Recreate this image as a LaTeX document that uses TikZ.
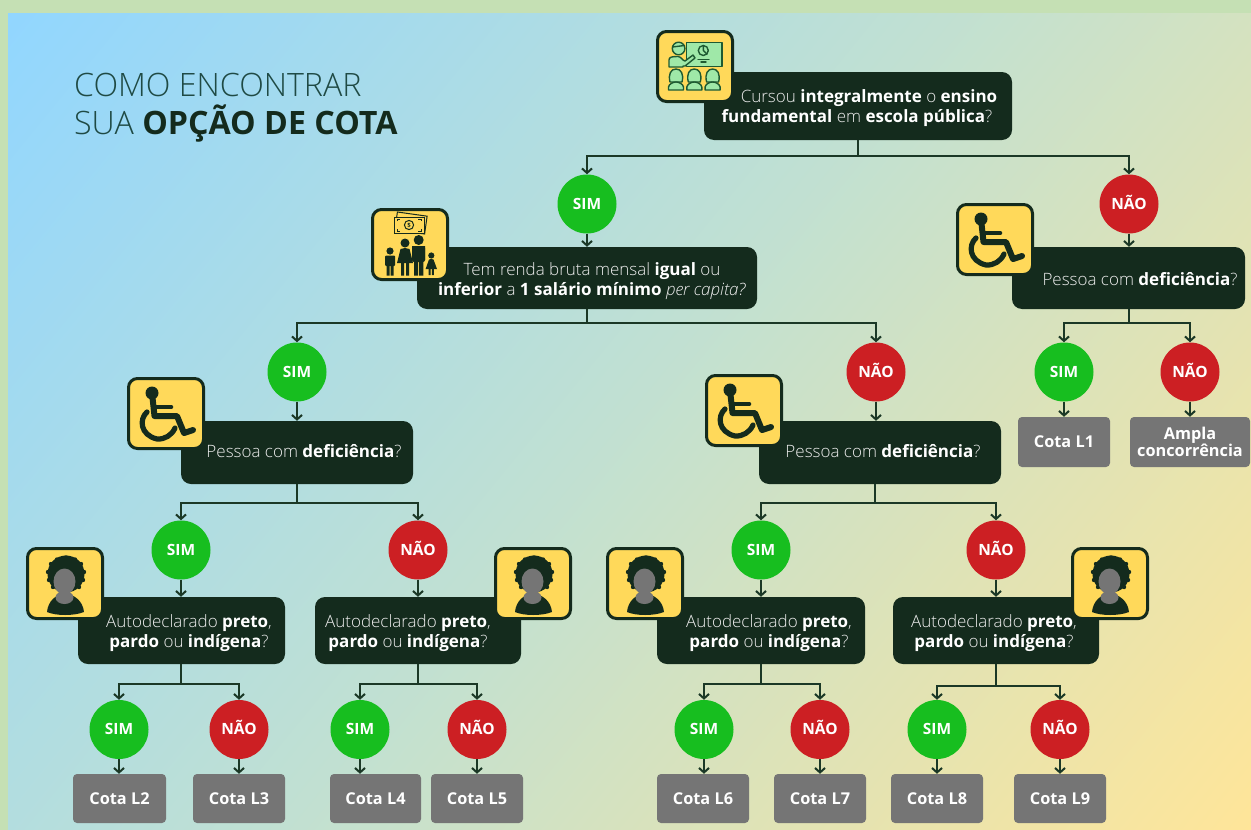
\documentclass[tikz,border=0pt]{standalone}
\usepackage{fontspec}
\setmainfont{Open Sans Light}[BoldFont=Open Sans Bold,ItalicFont=Open Sans Light Italic]
\usetikzlibrary{arrows.meta}
\definecolor{outer}{HTML}{C5E0B4}
\definecolor{dark}{HTML}{142B1D}
\definecolor{wire}{HTML}{1B3826}
\definecolor{yes}{HTML}{17BE1F}
\definecolor{no}{HTML}{CC1F23}
\definecolor{cota}{HTML}{757575}
\definecolor{iconbg}{HTML}{FFD95A}
\definecolor{lightg}{HTML}{9FE8A8}
\definecolor{igreen}{HTML}{1E5A32}
\definecolor{qtext}{HTML}{EDEDED}
\definecolor{titlec}{HTML}{1F4A44}
\pgfdeclarefunctionalshading{bggrad}{\pgfpoint{0bp}{0bp}}{\pgfpoint{1238.4bp}{814bp}}{}{
  814 div 1 exch sub 0.35 mul exch 1238.4 div 0.65 mul add
  dup 0.5 lt {
    2 mul dup dup
    -0.18 mul 1.0 add 3 1 roll
    0.04 mul 0.84 add 3 1 roll
    0.19 mul 0.57 add 3 1 roll
  }{
    0.5 sub 2 mul dup dup
    -0.22 mul 0.82 add 3 1 roll
    0.02 mul 0.88 add 3 1 roll
    0.24 mul 0.76 add 3 1 roll
  } ifelse
}
\tikzset{
  x=1pt,y=-1pt,
  qbox/.style={fill=dark,rounded corners=10pt,inner sep=0pt,draw=none},
  qtxt/.style={text=qtext,align=center,inner sep=0pt,font=\fontsize{17}{20.5}\selectfont},
  yesn/.style={circle,fill=yes,text=white,minimum size=59pt,inner sep=0pt,text height=11pt,text depth=1pt,font=\fontsize{15.5}{16}\selectfont\bfseries},
  non/.style={yesn,fill=no},
  cotab/.style={fill=cota,rounded corners=4pt,text=white,inner sep=0pt,align=center,font=\fontsize{16.3}{17}\selectfont\bfseries},
  wirel/.style={draw=wire,line width=2pt},
  arr/.style={wirel,-{Straight Barb[length=4.5pt,width=10pt,line width=2pt]}},
  frame/.style={fill=iconbg,draw=dark,line width=3pt,rounded corners=9pt},
  ink/.style={draw=dark,line cap=round,line join=round},
  gink/.style={draw=igreen,line cap=round,line join=round,line width=1.4pt},
}
% name x1 y1 x2 y2
\newcommand{\qb}[5]{\node[qbox,minimum width={(#4-#2)*1pt},minimum height={(#5-#3)*1pt}] (#1) at ({(#2+#4)/2},{(#3+#5)/2}) {};}
\newcommand{\cb}[6]{\node[cotab,minimum width={(#4-#2)*1pt},minimum height={(#5-#3)*1pt}] (#1) at ({(#2+#4)/2},{(#3+#5)/2}) {#6};}
% question name, junction x,y, left circle, right circle
\newcommand{\fork}[5]{\coordinate (#1j) at (#2,#3);
  \draw[wirel] (#1.south -| #1j) -- (#1j);
  \draw[arr] (#1j) -| (#4.north);
  \draw[arr] (#1j) -| (#5.north);}
\newcommand{\down}[2]{\draw[arr] (#1.south) -- (#1.south |- #2.north);}
\newcommand{\iconframe}{\draw[frame] (1.5,1.5) rectangle (76.5,71.5);}
\newcommand{\wheelicon}[2]{\begin{scope}[shift={(#1,#2)}]
  \iconframe
  \fill[dark] (25,16) circle[radius=6.5];
  \draw[ink,line width=6pt] (25,16) -- (27.5,39) -- (50,39) -- (57,56) -- (66,53);
  \draw[ink,line width=4.6pt] (27,30) -- (44,30);
  \draw[ink,line width=5.2pt] (20,35) .. controls (12,42) and (13,58) .. (30,62) .. controls (38,62.5) and (45,58) .. (48,51);
\end{scope}}
\newcommand{\personicon}[2]{\begin{scope}[shift={(#1,#2)}]
  \iconframe
  \fill[dark] (40,27) circle[radius=18.5];
  \foreach \a/\b in {40/10.5,31/12.5,25/17,22/25,23/33,27/40,53/40,49/12.5,55/17,58/25,57/33}{\fill[dark] (\a,\b) circle[radius=2.2];}
  \fill[dark] (21,65) .. controls (22,54) and (30,47) .. (39,47) .. controls (48,47) and (57,54) .. (58,65) .. controls (48,69) and (30,69) .. (21,65) -- cycle;
  \fill[cota] (38.5,50.5) ellipse[x radius=9,y radius=6.5];
  \fill[cota] (38.5,34.5) ellipse[x radius=11,y radius=13];
\end{scope}}
\newcommand{\teachicon}[2]{\begin{scope}[shift={(#1,#2)}]
  \iconframe
  \draw[gink,fill=lightg] (30.5,12.5) rectangle (66,36.5);
  \draw[gink,fill=lightg] (47.3,20.5) circle[radius=5];
  \draw[gink] (47.3,20.5) -- (47.3,15.5) (47.3,20.5) -- (51,24);
  \draw[gink] (42,29.5) -- (53,29.5) (45,32) -- (50,32);
  \draw[gink,fill=lightg] (13,37) -- (13,30) .. controls (13,27) and (16,26.5) .. (22,26.5) .. controls (25,26.5) and (27,31) .. (29,31) -- (37,25) -- (39,28) -- (29,36) -- (27,36) -- (27,37) -- cycle;
  \draw[gink,fill=lightg] (22.6,18.5) circle[radius=6.3];
  \draw[gink] (16.5,17) -- (28.5,15.5);
  \foreach \x in {20,38.3,56.6}{
    \draw[gink,fill=lightg] (\x-6,52) .. controls (\x-8,44) and (\x-5,39) .. (\x,39) .. controls (\x+5,39) and (\x+8,44) .. (\x+6,52) -- cycle;
    \draw[gink,fill=lightg] (\x-7.5,60) -- (\x-7.5,57) .. controls (\x-7,54) and (\x-3,52) .. (\x,52) .. controls (\x+3,52) and (\x+7,54) .. (\x+7.5,57) -- (\x+7.5,60) -- cycle;
  }
\end{scope}}
\newcommand{\famicon}[2]{\begin{scope}[shift={(#1,#2)}]
  \iconframe
  \draw[dark,line width=1pt,rotate around={-8:(40,15)}] (25,6) rectangle (55,24);
  \draw[dark,line width=1pt,fill=iconbg] (23,9) rectangle (53,25);
  \draw[dark,line width=1pt] (38,17) circle[radius=4.6];
  \draw[dark,line width=1pt] (26,13) -- (26,11) -- (29,11) (50,13) -- (50,11) -- (47,11) (26,21) -- (26,23) -- (29,23) (50,21) -- (50,23) -- (47,23);
  \node[inner sep=0pt,text=dark,font=\fontsize{6}{6}\selectfont\bfseries] (money) at (38,17) {\$};
  % father
  \fill[dark] (47.7,32) circle[radius=5];
  \fill[dark,rounded corners=2pt] (41,38) rectangle (54,54);
  \fill[dark] (43,50) rectangle (47.2,67.5) (48.2,50) rectangle (52.4,67.5);
  \fill[dark] (41,38) rectangle (43,52) (52,38) rectangle (54,52);
  % mother
  \fill[dark] (34,35) circle[radius=4.5];
  \fill[dark] (34,40) -- (38.5,41) -- (42,55) -- (26,55) -- (29.5,41) -- cycle;
  \fill[dark] (30,54) rectangle (33.2,67.5) (35,54) rectangle (38.2,67.5);
  % boy
  \fill[dark] (19,43) circle[radius=3.6];
  \fill[dark,rounded corners=1pt] (14,47.5) rectangle (24,58);
  \fill[dark] (15.5,56) rectangle (18.5,67.5) (19.5,56) rectangle (22.5,67.5);
  % girl
  \fill[dark] (60.3,47.5) circle[radius=3.1];
  \fill[dark] (60.3,51) -- (62.5,51.5) -- (66,61) -- (54.6,61) -- (58,51.5) -- cycle;
  \fill[dark] (57.7,60) rectangle (59.7,67) (60.9,60) rectangle (62.9,67);
\end{scope}}
\begin{document}
\begin{tikzpicture}
\useasboundingbox (0,0) rectangle (1251,830);
\fill[outer] (0,0) rectangle (1251,830);
\begin{scope}[shift={(8,830)}]
  \pgftext[left,bottom]{\pgfuseshading{bggrad}}
\end{scope}

\node[anchor=base west,inner sep=0pt,text=titlec,font=\fontsize{32.2}{33}\selectfont] (title1) at (74,96) {COMO ENCONTRAR};
\node[anchor=base west,inner sep=0pt,text=titlec,font=\fontsize{32.2}{33}\selectfont] (title2) at (74,134) {SUA \textcolor{dark}{\textbf{OPÇÃO DE COTA}}};

% question boxes
\qb{q1}{704}{72}{1012}{140}
\qb{q2}{417}{247}{757}{309}
\qb{q3}{181}{421}{413}{484}
\qb{q4}{759}{421}{1001}{484}
\qb{q5}{1012}{247}{1245}{309}
\qb{q6}{78}{597}{285}{664}
\qb{q7}{315}{597}{521}{664}
\qb{q8}{657}{597}{865}{664}
\qb{q9}{893}{597}{1099}{664}

% circles
\node[yesn] (a1) at (587,204) {SIM};
\node[non]  (a2) at (1129,204) {NÃO};
\node[yesn] (b1) at (297,372) {SIM};
\node[non]  (b2) at (876,372) {NÃO};
\node[yesn] (c1) at (1064,372) {SIM};
\node[non]  (c2) at (1190,372) {NÃO};
\node[yesn] (d1) at (181,550) {SIM};
\node[non]  (d2) at (418,550) {NÃO};
\node[yesn] (d3) at (761,550) {SIM};
\node[non]  (d4) at (996,550) {NÃO};
\node[yesn] (e1) at (119,729.5) {SIM};
\node[non]  (e2) at (239,729.5) {NÃO};
\node[yesn] (e3) at (360,729.5) {SIM};
\node[non]  (e4) at (477,729.5) {NÃO};
\node[yesn] (e5) at (704,729.5) {SIM};
\node[non]  (e6) at (820,729.5) {NÃO};
\node[yesn] (e7) at (937,729.5) {SIM};
\node[non]  (e8) at (1060,729.5) {NÃO};

% result boxes
\cb{l1}{1018}{417}{1110}{467}{Cota L1}
\cb{amp}{1130}{417}{1250}{467}{Ampla\\concorrência}
\cb{l2}{73}{774}{166}{823}{Cota L2}
\cb{l3}{193}{774}{285}{823}{Cota L3}
\cb{l4}{330}{774}{421}{823}{Cota L4}
\cb{l5}{431}{774}{523}{823}{Cota L5}
\cb{l6}{657}{774}{749}{823}{Cota L6}
\cb{l7}{774}{774}{866}{823}{Cota L7}
\cb{l8}{891}{774}{983}{823}{Cota L8}
\cb{l9}{1014}{774}{1106}{823}{Cota L9}

% connectors
\fork{q1}{858}{156}{a1}{a2}
\fork{q2}{587}{323}{b1}{b2}
\fork{q5}{1129}{323}{c1}{c2}
\fork{q3}{297}{503}{d1}{d2}
\fork{q4}{875}{503}{d3}{d4}
\fork{q6}{181}{684}{e1}{e2}
\fork{q7}{418}{684}{e3}{e4}
\fork{q8}{761}{684}{e5}{e6}
\fork{q9}{996}{686}{e7}{e8}
\down{a1}{q2} \down{a2}{q5} \down{b1}{q3} \down{b2}{q4}
\down{c1}{l1} \down{c2}{amp}
\down{d1}{q6} \down{d2}{q7} \down{d3}{q8} \down{d4}{q9}
\down{e1}{l2} \down{e2}{l3} \down{e3}{l4} \down{e4}{l5}
\down{e5}{l6} \down{e6}{l7} \down{e7}{l8} \down{e8}{l9}

% icons
\teachicon{656}{30}
\famicon{371}{208}
\wheelicon{956}{203}
\wheelicon{127}{377}
\wheelicon{705}{374}
\personicon{26}{547}
\personicon{494}{547}
\personicon{606}{547}
\personicon{1071}{547}

% question texts
\node[qtxt] (t1) at (857,108) {\hspace*{24pt}Cursou \textbf{\textcolor{white}{integralmente}} o \textbf{\textcolor{white}{ensino}}\\\textbf{\textcolor{white}{fundamental}} em \textbf{\textcolor{white}{escola pública}}?};
\node[qtxt] (t2) at (592,281) {Tem renda bruta mensal \textbf{\textcolor{white}{igual}} ou\\\textbf{\textcolor{white}{inferior}} a \textbf{\textcolor{white}{1 salário mínimo}} \textit{per capita?}};
\node[qtxt] (t3) at (304,451) {Pessoa com \textbf{\textcolor{white}{deficiência}}?};
\node[qtxt] (t4) at (883,451) {Pessoa com \textbf{\textcolor{white}{deficiência}}?};
\node[qtxt] (t5) at (1140,279) {Pessoa com \textbf{\textcolor{white}{deficiência}}?};
\node[qtxt] (t6) at (189,633) {Autodeclarado \textbf{\textcolor{white}{preto}},\\\textbf{\textcolor{white}{pardo}} ou \textbf{\textcolor{white}{indígena}}?};
\node[qtxt] (t7) at (408,633) {Autodeclarado \textbf{\textcolor{white}{preto}},\\\textbf{\textcolor{white}{pardo}} ou \textbf{\textcolor{white}{indígena}}?};
\node[qtxt] (t8) at (769,633) {Autodeclarado \textbf{\textcolor{white}{preto}},\\\textbf{\textcolor{white}{pardo}} ou \textbf{\textcolor{white}{indígena}}?};
\node[qtxt] (t9) at (994,633) {Autodeclarado \textbf{\textcolor{white}{preto}},\\\textbf{\textcolor{white}{pardo}} ou \textbf{\textcolor{white}{indígena}}?};
\end{tikzpicture}
\end{document}
